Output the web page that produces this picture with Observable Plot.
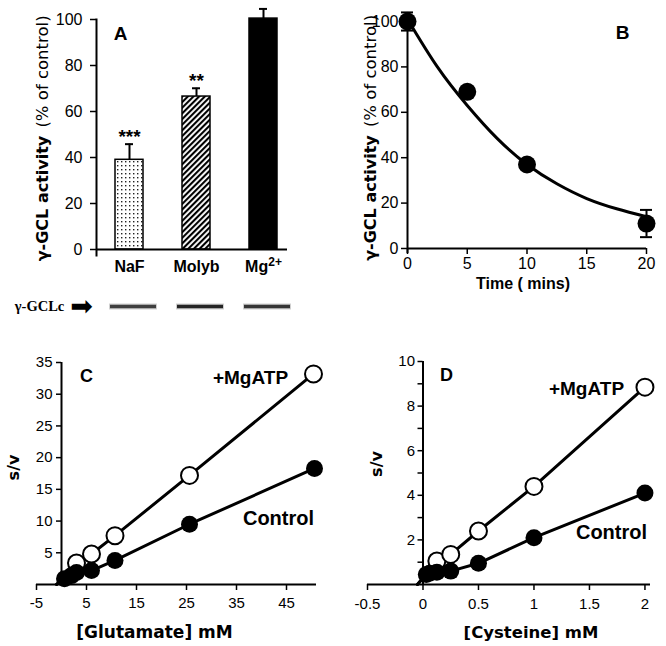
<!DOCTYPE html>
<html><head><meta charset="utf-8">
<script src="https://cdn.jsdelivr.net/npm/d3@7"></script>
<script src="https://cdn.jsdelivr.net/npm/@observablehq/plot@0.6"></script>
<style>
body{margin:0;background:#fff;}
#root{position:relative;width:666px;height:646px;overflow:hidden;background:#fff;}
.panel{position:absolute;}
</style></head><body><div id="root"></div>
<script>
// ---------- Panel A: bar chart ----------
const treatments = ["NaF", "Molyb", "Mg2+"];
const treatmentLabels = ["NaF", "Molyb", "Mg2+"];
const activity = [39, 66.5, 100.4];
const activityErr = [6.8, 3.6, 4.2];
const significance = ["***", "**", ""];
const yTicksA = [0, 20, 40, 60, 80, 100];
// Western blot lanes (γ-GCLc band intensity)
const blotIntensity = [0.8, 0.95, 0.85];
// ---------- Panel B: time course ----------
const timeMins = [0, 5, 10, 20];
const timeActivity = [100, 69, 37, 11];
const timeErr = [4, 1, 1, 6];
const fitTime = [0, 2.5, 5, 7.5, 10, 12.5, 15, 17.5, 20];
const fitActivity = [101, 80, 63, 48.5, 37, 28.5, 22, 17.5, 14];
const xTicksB = [0, 5, 10, 15, 20];
const yTicksB = [0, 20, 40, 60, 80, 100];
// ---------- Panel C: glutamate ----------
const gluCtrlX = [0.6, 2, 3, 6, 10.7, 25.6, 50.6];
const gluCtrlY = [0.9, 1.4, 1.9, 2.2, 3.8, 9.5, 18.3];
const gluMgX = [3, 6, 10.7, 25.6, 50.4];
const gluMgY = [3.4, 4.8, 7.7, 17.2, 33.2];
const gluLineStart = -1;
const xTicksC = [-5, 5, 15, 25, 35, 45];
const yTicksC = [5, 10, 15, 20, 25, 30, 35];
// ---------- Panel D: cysteine ----------
const cysCtrlX = [0.03, 0.06, 0.125, 0.25, 0.5, 1, 2];
const cysCtrlY = [0.45, 0.5, 0.55, 0.6, 0.95, 2.1, 4.1];
const cysMgX = [0.125, 0.25, 0.5, 1, 2];
const cysMgY = [1.05, 1.35, 2.4, 4.4, 8.85];
const cysLineStart = -0.05;
const xTicksD = [-0.5, 0, 0.5, 1, 1.5, 2];
const yTicksD = [1, 2, 3, 4, 5, 6, 7, 8, 9, 10];

const FONT = "Liberation Sans, Arial, Helvetica, sans-serif";
const WIDE = "DejaVu Sans, Verdana, sans-serif";
const root = document.getElementById("root");
const baseStyle = {background: "transparent", color: "black", fontFamily: FONT, fontSize: "16px", overflow: "visible"};
function place(el, left, top) {
  const d = document.createElement("div");
  d.className = "panel"; d.style.left = left + "px"; d.style.top = top + "px";
  d.appendChild(el); root.appendChild(d);
}
const fmt = d => String(d);
const C = {textAnchor: "middle", lineAnchor: "middle"};
function label(txt, opts) { return Plot.text([txt], {...C, ...opts}); }
function yTitle(dx, dyBold, dyNorm) {
  return [
    label("γ-GCL activity", {frameAnchor: "left", rotate: -90, dx, dy: dyBold, fontFamily: WIDE, fontWeight: "bold", fontSize: 16}),
    label("(% of control)", {frameAnchor: "left", rotate: -90, dx, dy: dyNorm, fontFamily: WIDE, fontSize: 16.5})
  ];
}

// ---------- A ----------
const aData = treatments.map((t, i) => ({t, v: activity[i], e: activityErr[i], s: significance[i]}));
const xBand = {type: "band", domain: treatments, range: [96, 297], paddingInner: 0.58, paddingOuter: 0.29, align: 0.5, axis: null};
const plotA = Plot.plot({
  width: 300, height: 275, marginLeft: 96, marginRight: 13, marginTop: 19, marginBottom: 26,
  x: xBand,
  y: {domain: [0, 100], axis: null},
  color: {type: "ordinal", domain: treatments, range: ["url(#pDots)", "url(#pHatch)", "#000"]},
  style: baseStyle,
  marks: [
    Plot.axisY({ticks: yTicksA, tickSize: 6, tickPadding: 8, fontSize: 16, strokeWidth: 1.5, label: null, tickFormat: fmt}),
    Plot.axisX({tickSize: 0, tickPadding: 11, fontSize: 16, fontWeight: "bold", label: null,
      tickFormat: d => treatmentLabels[treatments.indexOf(d)]}),
    Plot.barY(aData, {x: "t", y: "v", fill: "t", stroke: "black", strokeWidth: 1.5}),
    Plot.ruleX(aData, {x: "t", y1: "v", y2: d => d.v + d.e, strokeWidth: 2}),
    Plot.tickY(aData, {x: "t", y: d => d.v + d.e, insetLeft: 10, insetRight: 10, strokeWidth: 2}),
    Plot.text(aData, {x: "t", y: d => d.v + d.e, text: "s", dy: -7, fontSize: 19, fontWeight: "bold"}),
    Plot.frame({anchor: "left", strokeWidth: 2, insetBottom: -6}),
    Plot.ruleY([0], {strokeWidth: 2}),
    label("A", {frameAnchor: "top-left", dx: 24, dy: 14, fontSize: 19, fontWeight: "bold"}),
    ...yTitle(-54, 64, -63)
  ]
});
{
  const ns = "http://www.w3.org/2000/svg";
  const tmp = document.createElementNS(ns, "svg");
  tmp.innerHTML = `<defs>
    <pattern id="pDots" patternUnits="userSpaceOnUse" width="4" height="4">
      <rect width="4" height="4" fill="white"/><rect x="1" y="1" width="1.4" height="1.4" fill="#222"/>
    </pattern>
    <pattern id="pHatch" patternUnits="userSpaceOnUse" width="4" height="4" patternTransform="rotate(45)">
      <rect width="4" height="4" fill="white"/><rect width="2.1" height="4" fill="black"/>
    </pattern></defs>`;
  plotA.insertBefore(tmp.firstElementChild, plotA.firstChild);
  // render "Mg2+" with a real superscript
  plotA.querySelectorAll("text").forEach(t => {
    if (t.textContent === "Mg2+") {
      t.textContent = "Mg";
      const s = document.createElementNS(ns, "tspan");
      s.setAttribute("dy", "-0.45em"); s.setAttribute("font-size", "12");
      s.textContent = "2+";
      t.appendChild(s);
    }
  });
}
place(plotA, 0, 0);

// ---------- Blot ----------
const blotData = treatments.map((t, i) => ({t, k: blotIntensity[i]}));
const plotBlot = Plot.plot({
  width: 300, height: 24, marginLeft: 96, marginRight: 13, marginTop: 0, marginBottom: 0,
  x: xBand, y: {domain: [0, 1], axis: null},
  style: baseStyle,
  marks: [
    Plot.tickY(blotData, {x: "t", y: () => 0.5, insetLeft: -10, insetRight: -10, dx: 4, strokeWidth: 6, stroke: "#777", strokeOpacity: 0.35}),
    Plot.tickY(blotData, {x: "t", y: () => 0.5, insetLeft: -9, insetRight: -9, dx: 4, strokeWidth: 3.5, stroke: "#1a1a1a", strokeOpacity: "k"}),
    label("γ-GCLc", {frameAnchor: "left", dx: -57, fontFamily: "Liberation Serif, Times New Roman, serif", fontWeight: "bold", fontSize: 14.5}),
    label("➡", {frameAnchor: "left", dx: -15, fontFamily: WIDE, fontSize: 27})
  ]
});
place(plotBlot, 0, 294);

// ---------- B ----------
const bData = timeMins.map((t, i) => ({t, v: timeActivity[i], e: timeErr[i]}));
const fitData = fitTime.map((t, i) => ({t, v: fitActivity[i]}));
const plotB = Plot.plot({
  width: 333, height: 290, marginLeft: 74, marginRight: 20, marginTop: 21, marginBottom: 42,
  x: {domain: [0, 20], axis: null},
  y: {domain: [0, 100], axis: null},
  style: baseStyle,
  marks: [
    Plot.axisX({ticks: xTicksB, tickSize: 6, tickPadding: 3, fontSize: 16, strokeWidth: 1.5, label: null, tickFormat: fmt}),
    Plot.axisY({ticks: yTicksB, tickSize: 6, tickPadding: 3, fontSize: 16, strokeWidth: 1.5, label: null, tickFormat: fmt}),
    Plot.ruleY([0], {strokeWidth: 2}),
    Plot.ruleX([0], {strokeWidth: 2, insetBottom: -5}),
    Plot.line(fitData, {x: "t", y: "v", curve: "natural", strokeWidth: 3}),
    Plot.ruleX(bData, {x: "t", y1: d => d.v - d.e, y2: d => d.v + d.e, strokeWidth: 2}),
    Plot.ruleY(bData, {x1: "t", x2: "t", y: d => d.v + d.e, insetLeft: -6, insetRight: -6, strokeWidth: 2}),
    Plot.ruleY(bData, {x1: "t", x2: "t", y: d => d.v - d.e, insetLeft: -6, insetRight: -6, strokeWidth: 2}),
    Plot.dot(bData, {x: "t", y: "v", r: 9, fill: "black"}),
    label("B", {frameAnchor: "top-right", dx: -24, dy: 11, fontSize: 19, fontWeight: "bold"}),
    label("Time ( mins)", {frameAnchor: "bottom", dx: -4, dy: 35, fontSize: 16, fontWeight: "bold"}),
    ...yTitle(-37, 63, -64)
  ]
});
place(plotB, 333, 0);

// ---------- C ----------
const cCtrl = gluCtrlX.map((x, i) => ({x, y: gluCtrlY[i]}));
const cMg = gluMgX.map((x, i) => ({x, y: gluMgY[i]}));
const cCtrlLine = [{x: gluLineStart, y: 0}, ...cCtrl];
const cMgLine = [{x: gluLineStart, y: 0}, ...cMg];
const plotC = Plot.plot({
  width: 333, height: 316, marginLeft: 36, marginRight: 17, marginTop: 32, marginBottom: 62,
  x: {domain: [-5, 51], axis: null},
  y: {domain: [0, 35], axis: null},
  style: baseStyle,
  marks: [
    Plot.axisX({ticks: xTicksC, tickSize: 6, tickPadding: 7, fontSize: 15, strokeWidth: 1.5, label: null, tickFormat: fmt}),
    Plot.axisY({ticks: yTicksC, tickSize: 5, tickPadding: 4, fontSize: 15, strokeWidth: 1.5, label: null, tickFormat: fmt, dx: 25}),
    Plot.ruleY([0], {strokeWidth: 2}),
    Plot.ruleX([0], {strokeWidth: 2}),
    Plot.line(cMgLine, {x: "x", y: "y", strokeWidth: 3}),
    Plot.line(cCtrlLine, {x: "x", y: "y", strokeWidth: 3}),
    Plot.dot(cMg, {x: "x", y: "y", r: 8.5, fill: "white", stroke: "black", strokeWidth: 2}),
    Plot.dot(cCtrl, {x: "x", y: "y", r: 8.5, fill: "black"}),
    label("C", {frameAnchor: "top-left", dx: 50, dy: 14, fontSize: 18, fontWeight: "bold"}),
    label("+MgATP", {frameAnchor: "top-right", dx: -66, dy: 15, fontSize: 19, fontWeight: "bold"}),
    label("Control", {frameAnchor: "right", dx: -38, dy: 45, fontSize: 20, fontWeight: "bold"}),
    label("[Glutamate] mM", {frameAnchor: "bottom", dx: -22, dy: 48, fontFamily: WIDE, fontSize: 17, fontWeight: "bold"}),
    label("s/v", {frameAnchor: "left", rotate: -90, dx: -23, dy: -6, fontFamily: WIDE, fontSize: 16, fontWeight: "bold"})
  ]
});
place(plotC, 0, 330);

// ---------- D ----------
const dCtrl = cysCtrlX.map((x, i) => ({x, y: cysCtrlY[i]}));
const dMg = cysMgX.map((x, i) => ({x, y: cysMgY[i]}));
const dCtrlLine = [{x: cysLineStart, y: 0}, ...dCtrl];
const dMgLine = [{x: cysLineStart, y: 0}, ...dMg];
const plotD = Plot.plot({
  width: 333, height: 316, marginLeft: 34, marginRight: 16, marginTop: 31, marginBottom: 62,
  x: {domain: [-0.5, 2.05], axis: null},
  y: {domain: [0, 10], axis: null},
  style: baseStyle,
  marks: [
    Plot.axisX({ticks: xTicksD, tickSize: 6, tickPadding: 8, fontSize: 15, strokeWidth: 1.5, label: null, tickFormat: fmt}),
    Plot.axisY({ticks: yTicksD, tickSize: 5, tickPadding: 3, fontSize: 15, strokeWidth: 1.5, label: null,
      tickFormat: d => d % 2 === 0 ? String(d) : "", dx: 55.5}),
    Plot.ruleY([0], {strokeWidth: 2}),
    Plot.ruleX([0], {strokeWidth: 2}),
    Plot.line(dMgLine, {x: "x", y: "y", strokeWidth: 3}),
    Plot.line(dCtrlLine, {x: "x", y: "y", strokeWidth: 3}),
    Plot.dot(dMg, {x: "x", y: "y", r: 8.5, fill: "white", stroke: "black", strokeWidth: 2}),
    Plot.dot(dCtrl, {x: "x", y: "y", r: 8.5, fill: "black"}),
    label("D", {frameAnchor: "top-left", dx: 79, dy: 14, fontSize: 18, fontWeight: "bold"}),
    label("+MgATP", {frameAnchor: "top-right", dx: -64, dy: 27, fontSize: 19, fontWeight: "bold"}),
    label("Control", {frameAnchor: "right", dx: -39, dy: 60, fontSize: 20, fontWeight: "bold"}),
    label("[Cysteine] mM", {frameAnchor: "bottom", dx: 22, dy: 48, fontFamily: WIDE, fontSize: 16.5, fontWeight: "bold"}),
    label("s/v", {frameAnchor: "left", rotate: -90, dx: 9, dy: -9, fontFamily: WIDE, fontSize: 16, fontWeight: "bold"})
  ]
});
place(plotD, 333, 330);
</script></body></html>
